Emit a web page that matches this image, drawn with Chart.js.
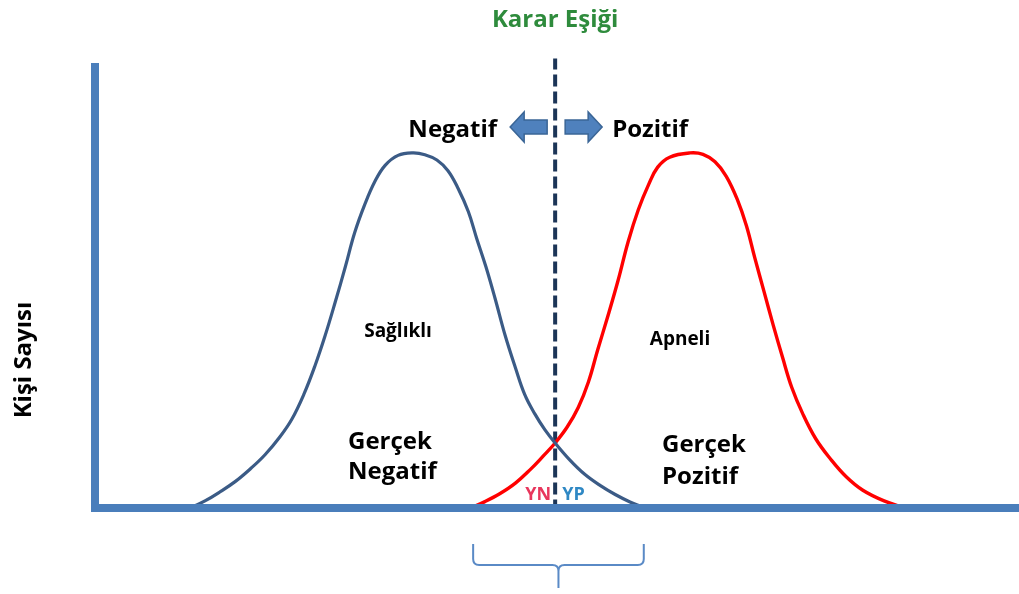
<!DOCTYPE html>
<html>
<head>
<meta charset="utf-8">
<script src="https://cdn.jsdelivr.net/npm/chart.js@4.4.1/dist/chart.umd.min.js"></script>
<style>
  html, body { margin: 0; padding: 0; background: #fff; }
</style>
</head>
<body>
<canvas id="esik" width="1019" height="594"></canvas>
<script>
// Sağlıklı grubun dağılımı: test puanı -> kişi sayısı (tepe = 100)
const saglikliX = [10.3, 11.9, 13.5, 15.2, 16.8, 18.4, 20.0, 21.3, 22.6, 23.8, 24.9, 26.0, 27.1, 28.1,
                   29.2, 30.3, 31.4, 32.8, 34.4, 35.7, 37.0, 38.2, 39.3, 40.4, 41.3, 42.3, 43.3, 44.4,
                   45.5, 46.5, 47.6, 48.7, 49.8, 51.4, 53.0, 54.7, 56.3, 57.9, 59.5];
const saglikliY = [0, 2.0, 4.5, 7.5, 11, 15, 20, 25, 32, 40, 48.5, 58, 68, 77.5,
                   85.5, 92, 96.5, 99.3, 100, 99.5, 98, 95, 90, 83.5, 76, 68, 59, 48.5,
                   39.5, 32, 26.5, 22, 18.3, 13.5, 9.5, 6.3, 3.8, 1.7, 0];

// Apneli grubun dağılımı
const apneliX = [40.6, 42.2, 43.8, 45.5, 47.1, 48.5, 49.8, 51.1, 52.3, 53.4, 54.4, 55.5, 56.6, 57.7,
                 58.8, 59.9, 60.9, 62.2, 64.4, 65.8, 67.1, 68.3, 69.5, 70.5, 71.4, 72.4, 73.4, 74.4,
                 75.4, 76.6, 78.0, 79.6, 81.3, 83.1, 85.4, 87.7];
const apneliY = [0, 1.8, 4.0, 7.0, 10.8, 14.6, 18.3, 22.8, 28.3, 35.5, 44.5, 54, 64, 75,
                 84, 91, 96, 98.8, 100, 99.6, 97.5, 93.5, 87, 79.5, 70.5, 61, 51.5, 42.5,
                 34, 26.5, 19.5, 13.8, 8.8, 5.0, 2.0, 0];

// karar eşiği
const esikX = 49.8;
const esikY = [-1, 126.6];

const xMin = 0, xMax = 100;
const yMin = 0, yMax = 124.2;

const FONT = '"Open Sans", Lato, sans-serif';
const toPts = (xs, ys) => xs.map((x, i) => ({ x: x, y: ys[i] }));

function txt(ctx, s, x, y, size, color, align) {
  ctx.font = 'bold ' + size + 'px ' + FONT;
  ctx.fillStyle = color;
  ctx.textAlign = align || 'left';
  ctx.textBaseline = 'alphabetic';
  ctx.fillText(s, x, y);
}

function arrow(ctx, tail, tip, cy) {
  // yatay blok ok: gövde yarı yüksekliği 7, baş yarı yüksekliği 15
  const dir = Math.sign(tip - tail);
  const base = tip - dir * 14;
  ctx.beginPath();
  ctx.moveTo(tail, cy - 7);
  ctx.lineTo(base, cy - 7);
  ctx.lineTo(base, cy - 15);
  ctx.lineTo(tip, cy);
  ctx.lineTo(base, cy + 15);
  ctx.lineTo(base, cy + 7);
  ctx.lineTo(tail, cy + 7);
  ctx.closePath();
  ctx.fillStyle = '#4f81bd';
  ctx.fill();
  ctx.lineWidth = 1.5;
  ctx.strokeStyle = '#3a6596';
  ctx.stroke();
}

const etiketler = {
  id: 'etiketler',
  afterDraw(chart) {
    const ctx = chart.ctx;
    const xs = chart.scales.x;
    const cx = xs.getPixelForValue(esikX);
    ctx.save();

    txt(ctx, 'Karar Eşiği', cx, 27, 24, '#2e8b3c', 'center');
    txt(ctx, 'Negatif', cx - 58, 137, 24, '#000', 'right');
    txt(ctx, 'Pozitif', cx + 57, 137, 24, '#000', 'left');
    arrow(ctx, cx - 8, cx - 45, 127);
    arrow(ctx, cx + 10, cx + 47, 127);

    txt(ctx, 'Sağlıklı', 398, 337, 19, '#000', 'center');
    txt(ctx, 'Apneli', 680, 345, 19, '#000', 'center');
    txt(ctx, 'Gerçek', 348, 449, 24, '#000');
    txt(ctx, 'Negatif', 348, 479, 24, '#000');
    txt(ctx, 'Gerçek', 662, 452, 24, '#000');
    txt(ctx, 'Pozitif', 662, 484, 24, '#000');
    txt(ctx, 'YN', cx - 4, 500, 18, '#e8365c', 'right');
    txt(ctx, 'YP', cx + 7, 500, 18, '#2f88c4', 'left');

    // y ekseni başlığı
    ctx.translate(31, 360);
    ctx.rotate(-Math.PI / 2);
    txt(ctx, 'Kişi Sayısı', 0, 0, 24, '#000', 'center');
    ctx.setTransform(1, 0, 0, 1, 0, 0);

    // iki dağılımın örtüştüğü bölgeyi gösteren ayraç
    const l = xs.getPixelForValue(apneliX[0]) + 3;
    const r = xs.getPixelForValue(saglikliX[saglikliX.length - 1]) - 1;
    const m = (l + r) / 2;
    const top = 544, mid = 565, tipY = 588;
    ctx.beginPath();
    ctx.moveTo(l, top);
    ctx.lineTo(l, mid - 6);
    ctx.quadraticCurveTo(l, mid, l + 6, mid);
    ctx.lineTo(m - 6, mid);
    ctx.quadraticCurveTo(m, mid, m, mid + 6);
    ctx.lineTo(m, tipY);
    ctx.moveTo(m, mid + 6);
    ctx.quadraticCurveTo(m, mid, m + 6, mid);
    ctx.lineTo(r - 6, mid);
    ctx.quadraticCurveTo(r, mid, r, mid - 6);
    ctx.lineTo(r, top);
    ctx.lineWidth = 2;
    ctx.strokeStyle = '#5a8ac6';
    ctx.stroke();
    ctx.restore();
  }
};

new Chart(document.getElementById('esik'), {
  type: 'line',
  data: {
    datasets: [
      {
        label: 'Sağlıklı',
        data: toPts(saglikliX, saglikliY),
        borderColor: '#3b5b86',
        borderWidth: 3.2,
        pointRadius: 0,
        tension: 0.4
      },
      {
        label: 'Apneli',
        data: toPts(apneliX, apneliY),
        borderColor: '#ff0000',
        borderWidth: 3.4,
        pointRadius: 0,
        tension: 0.4
      },
      {
        label: 'Karar Eşiği',
        data: toPts([esikX, esikX], esikY),
        borderColor: '#1c3557',
        borderWidth: 4,
        borderDash: [12, 5],
        pointRadius: 0,
        clip: false
      }
    ]
  },
  options: {
    responsive: false,
    devicePixelRatio: 1,
    animation: false,
    layout: { padding: { left: 95, top: 67, right: 0, bottom: 86 } },
    plugins: { legend: { display: false }, tooltip: { enabled: false } },
    scales: {
      x: {
        type: 'linear', min: xMin, max: xMax,
        ticks: { display: false },
        grid: { display: false, drawTicks: false, tickLength: 0 },
        border: { display: true, color: '#4a7ebb', width: 8, z: 1 }
      },
      y: {
        type: 'linear', min: yMin, max: yMax,
        ticks: { display: false },
        grid: { display: false, drawTicks: false, tickLength: 0 },
        border: { display: true, color: '#4a7ebb', width: 8, z: 1 }
      }
    }
  },
  plugins: [etiketler]
});
</script>
</body>
</html>
